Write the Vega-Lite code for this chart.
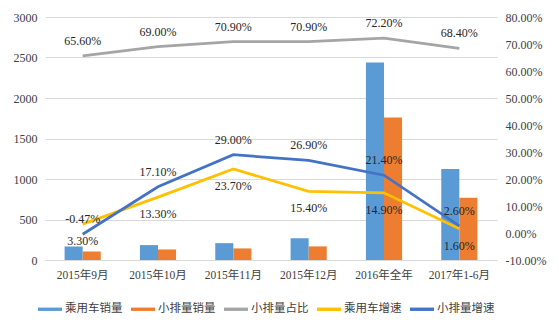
{
  "$schema": "https://vega.github.io/schema/vega-lite/v6.json",
  "width": 452,
  "height": 243,
  "autosize": {"type": "none"},
  "padding": {"left": 45, "top": 17, "right": 62, "bottom": 69},
  "background": "white",
  "config": {
    "view": {"stroke": null},
    "locale": {"number": {"decimal": ".", "thousands": ",", "grouping": [3], "currency": ["$", ""], "minus": "-"}},
    "axis": {"labelFont": "'Liberation Serif', 'Times New Roman', serif", "labelColor": "#404040", "labelFontSize": 12, "ticks": false, "domain": false, "title": null}
  },
  "data": {"values": [
    {"cat": "2015年9月", "series": "乘用车销量", "value": 168},
    {"cat": "2015年10月", "series": "乘用车销量", "value": 184},
    {"cat": "2015年11月", "series": "乘用车销量", "value": 208},
    {"cat": "2015年12月", "series": "乘用车销量", "value": 270},
    {"cat": "2016年全年", "series": "乘用车销量", "value": 2437},
    {"cat": "2017年1-6月", "series": "乘用车销量", "value": 1123},
    {"cat": "2015年9月", "series": "小排量销量", "value": 106},
    {"cat": "2015年10月", "series": "小排量销量", "value": 130},
    {"cat": "2015年11月", "series": "小排量销量", "value": 143},
    {"cat": "2015年12月", "series": "小排量销量", "value": 168},
    {"cat": "2016年全年", "series": "小排量销量", "value": 1758},
    {"cat": "2017年1-6月", "series": "小排量销量", "value": 769},
    {"cat": "2015年9月", "series": "小排量占比", "value": 0.656},
    {"cat": "2015年10月", "series": "小排量占比", "value": 0.69},
    {"cat": "2015年11月", "series": "小排量占比", "value": 0.709},
    {"cat": "2015年12月", "series": "小排量占比", "value": 0.709},
    {"cat": "2016年全年", "series": "小排量占比", "value": 0.722},
    {"cat": "2017年1-6月", "series": "小排量占比", "value": 0.684},
    {"cat": "2015年9月", "series": "乘用车增速", "value": 0.033},
    {"cat": "2015年10月", "series": "乘用车增速", "value": 0.133},
    {"cat": "2015年11月", "series": "乘用车增速", "value": 0.237},
    {"cat": "2015年12月", "series": "乘用车增速", "value": 0.154},
    {"cat": "2016年全年", "series": "乘用车增速", "value": 0.149},
    {"cat": "2017年1-6月", "series": "乘用车增速", "value": 0.016},
    {"cat": "2015年9月", "series": "小排量增速", "value": -0.0047},
    {"cat": "2015年10月", "series": "小排量增速", "value": 0.171},
    {"cat": "2015年11月", "series": "小排量增速", "value": 0.29},
    {"cat": "2015年12月", "series": "小排量增速", "value": 0.269},
    {"cat": "2016年全年", "series": "小排量增速", "value": 0.214},
    {"cat": "2017年1-6月", "series": "小排量增速", "value": 0.026}
  ]},
  "encoding": {
    "x": {"field": "cat", "type": "nominal", "sort": null,
      "scale": {"paddingInner": 0.52, "paddingOuter": 0.26},
      "axis": {"labelAngle": 0, "labelFont": "'Liberation Serif', 'Noto Sans CJK SC', serif", "labelFontSize": 11.5, "labelPadding": 9, "domain": true, "domainColor": "#D9D9D9", "domainWidth": 1}},
    "color": {"field": "series", "type": "nominal",
      "scale": {"domain": ["乘用车销量", "小排量销量", "小排量占比", "乘用车增速", "小排量增速"],
                "range": ["#5B9BD5", "#ED7D31", "#A5A5A5", "#FFC000", "#4472C4"]},
      "legend": {"title": null, "orient": "none", "legendX": -7, "legendY": 280, "direction": "horizontal",
        "symbolType": "M-1,-0.14L1,-0.14L1,0.14L-1,0.14Z", "symbolSize": 576, "symbolStrokeWidth": 0,
        "labelFont": "Noto Sans CJK SC", "labelFontSize": 11.5, "labelColor": "#404040", "labelOffset": 3, "columnPadding": 8,
        "encode": {"symbols": {"update": {"fill": {"scale": "color", "field": "value"}, "stroke": {"value": "transparent"}, "opacity": {"value": 1}}}}}}
  },
  "layer": [
    {
      "transform": [{"filter": "datum.series === '乘用车销量' || datum.series === '小排量销量'"}],
      "mark": {"type": "bar"},
      "encoding": {
        "xOffset": {"field": "series", "type": "nominal", "sort": ["乘用车销量", "小排量销量"]},
        "y": {"field": "value", "type": "quantitative", "scale": {"domain": [0, 3000]},
          "axis": {"values": [0, 500, 1000, 1500, 2000, 2500, 3000], "format": "d", "labelFont": "'Liberation Serif', 'Times New Roman', serif", "grid": true, "gridColor": "#D9D9D9", "labelPadding": 8}}
      }
    },
    {
      "transform": [{"filter": "datum.series !== '乘用车销量' && datum.series !== '小排量销量'"}],
      "encoding": {
        "y": {"field": "value", "type": "quantitative", "scale": {"domain": [-0.1, 0.8]},
          "axis": {"orient": "right", "values": [-0.1, 0, 0.1, 0.2, 0.3, 0.4, 0.5, 0.6, 0.7, 0.8], "format": ".2%", "labelFont": "'Liberation Serif', 'Times New Roman', serif", "grid": false, "labelPadding": 8}}
      },
      "layer": [
        {"mark": {"type": "line", "strokeWidth": 2.75}},
        {"transform": [{"filter": "datum.series !== '乘用车增速'"}],
         "mark": {"type": "text", "dy": -15, "font": "'Liberation Serif', 'Times New Roman', serif", "fontSize": 12},
         "encoding": {"text": {"field": "value", "type": "quantitative", "format": ".2%"}, "color": {"value": "#262626"}}},
        {"transform": [{"filter": "datum.series === '乘用车增速'"}],
         "mark": {"type": "text", "dy": 17, "font": "'Liberation Serif', 'Times New Roman', serif", "fontSize": 12},
         "encoding": {"text": {"field": "value", "type": "quantitative", "format": ".2%"}, "color": {"value": "#262626"}}}
      ]
    }
  ],
  "resolve": {"scale": {"y": "independent"}}
}
